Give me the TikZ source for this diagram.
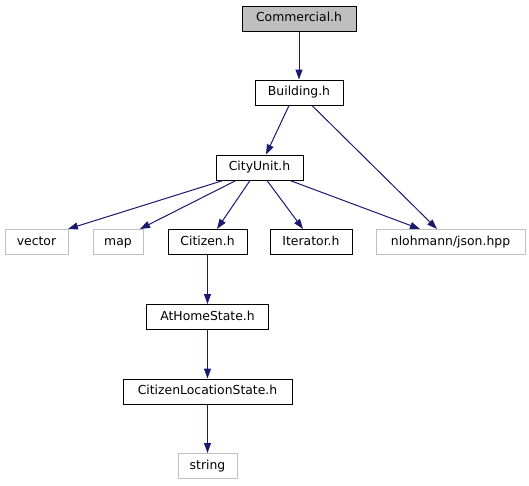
\documentclass[tikz,border=0pt]{standalone}
\usepackage{fontspec}
\setmainfont{DejaVu Sans}
\usetikzlibrary{arrows.meta}
\definecolor{edgeblue}{HTML}{191970}
\definecolor{extgray}{HTML}{BFBFBF}
\tikzset{
  box/.style={draw=black, line width=1pt, rectangle, minimum height=25pt, inner sep=0pt, text height=9.4pt, text depth=2.6pt, font=\fontsize{12.4}{14}\selectfont, fill=white},
  extbox/.style={box, draw=extgray},
  rootbox/.style={box, fill=extgray},
  dep/.style={draw=edgeblue, line width=1pt, -{Triangle[length=10pt,width=7pt]}}
}
\begin{document}
\begin{tikzpicture}[x=1pt,y=-1pt]
\useasboundingbox (0,0) rectangle (529,485);
\node[rootbox, minimum width=114pt] (com) at (299,18.5) {Commercial.h};
\node[box, minimum width=88pt] (bld) at (299,92.5) {Building.h};
\node[box, minimum width=87pt] (city) at (259.5,167.5) {CityUnit.h};
\node[extbox, minimum width=63pt] (vec) at (36.5,242) {vector};
\node[extbox, minimum width=50pt] (map) at (118,242) {map};
\node[box, minimum width=79pt] (cit) at (207.5,242) {Citizen.h};
\node[box, minimum width=82pt] (itr) at (311,242) {Iterator.h};
\node[extbox, minimum width=149pt] (json) at (450.5,242) {nlohmann/json.hpp};
\node[box, minimum width=122pt] (home) at (207.5,317) {AtHomeState.h};
\node[box, minimum width=169pt] (cls) at (207.5,391.5) {CitizenLocationState.h};
\node[extbox, minimum width=59pt] (str) at (207.5,466) {string};

\draw[dep] (com.south) -- (bld.north);
\draw[dep] ([xshift=-10pt]bld.south) -- ([xshift=6.5pt]city.north);
\draw[dep] ([xshift=13pt]bld.south) -- ([xshift=-13.5pt]json.north);
\draw[dep] ([xshift=-36.5pt]city.south) -- ([xshift=31.5pt]vec.north);
\draw[dep] ([xshift=-23.5pt]city.south) -- ([xshift=22pt]map.north);
\draw[dep] ([xshift=-9.5pt]city.south) -- ([xshift=9.5pt]cit.north);
\draw[dep] ([xshift=7.5pt]city.south) -- ([xshift=-8pt]itr.north);
\draw[dep] ([xshift=30.5pt]city.south) -- ([xshift=-30.5pt]json.north);
\draw[dep] (cit.south) -- (home.north);
\draw[dep] (home.south) -- (cls.north);
\draw[dep] (cls.south) -- (str.north);
\end{tikzpicture}
\end{document}
